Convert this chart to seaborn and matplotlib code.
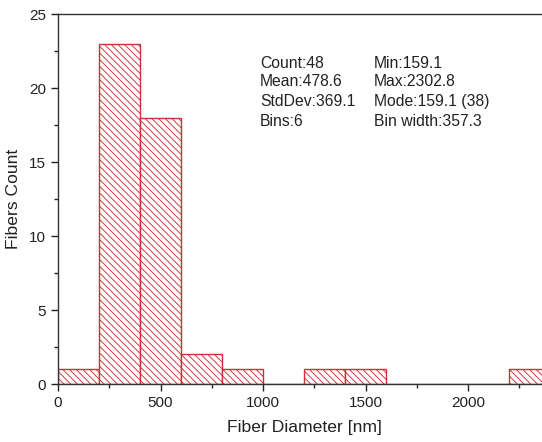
import matplotlib
matplotlib.use("Agg")
import matplotlib.pyplot as plt
import seaborn as sns
import numpy as np
from matplotlib.ticker import MultipleLocator

bin_edges = [0, 200, 400, 600, 800, 1000, 1200, 1400, 1600, 1800, 2000, 2200, 2400]
counts = [1, 23, 18, 2, 1, 0, 1, 1, 0, 0, 0, 1]
stats_left = ["Count:48", "Mean:478.6", "StdDev:369.1", "Bins:6"]
stats_right = ["Min:159.1", "Max:2302.8", "Mode:159.1 (38)", "Bin width:357.3"]

sns.set_style("ticks")
plt.rcParams['font.family'] = ['Liberation Sans', 'DejaVu Sans']
plt.rcParams['hatch.color'] = '#d65a64'
plt.rcParams['hatch.linewidth'] = 0.65

fig = plt.figure(figsize=(5.42, 4.42), dpi=100)
ax = fig.add_axes([58/542, 1-384/442, (550-58)/542, (384-14)/442])

centers = [(a + b) / 2 for a, b in zip(bin_edges[:-1], bin_edges[1:])]
sns.histplot(x=centers, weights=counts, bins=bin_edges, ax=ax,
             facecolor='white', edgecolor='#cc3039', linewidth=1.0,
             hatch='\\\\\\\\\\', alpha=1)

ax.set_xlim(0, 2400)
ax.set_ylim(0, 25)
ax.xaxis.set_major_locator(MultipleLocator(500))
ax.xaxis.set_minor_locator(MultipleLocator(250))
ax.yaxis.set_major_locator(MultipleLocator(5))
ax.yaxis.set_minor_locator(MultipleLocator(2.5))
ax.tick_params(which='major', direction='out', length=5, width=1, labelsize=11, colors='#222222')
ax.tick_params(which='minor', direction='out', length=3, width=1, colors='#222222')
for s in ['left', 'bottom', 'top']:
    ax.spines[s].set_color('#333333')
    ax.spines[s].set_linewidth(1.0)
ax.spines['right'].set_visible(False)

ax.set_xlabel("Fiber Diameter [nm]", fontsize=12.6, color='#222222', labelpad=7)
ax.set_ylabel("Fibers Count", fontsize=12.6, color='#222222', labelpad=6)

ys = [63, 82, 101.5, 121]
for t, y in zip(stats_left, ys):
    fig.text(260/542, 1 - y/442, t, fontsize=11.3, va='center', ha='left', color='#222222')
for t, y in zip(stats_right, ys):
    fig.text(374/542, 1 - y/442, t, fontsize=11.3, va='center', ha='left', color='#222222')

fig.savefig("out.png", dpi=100)
